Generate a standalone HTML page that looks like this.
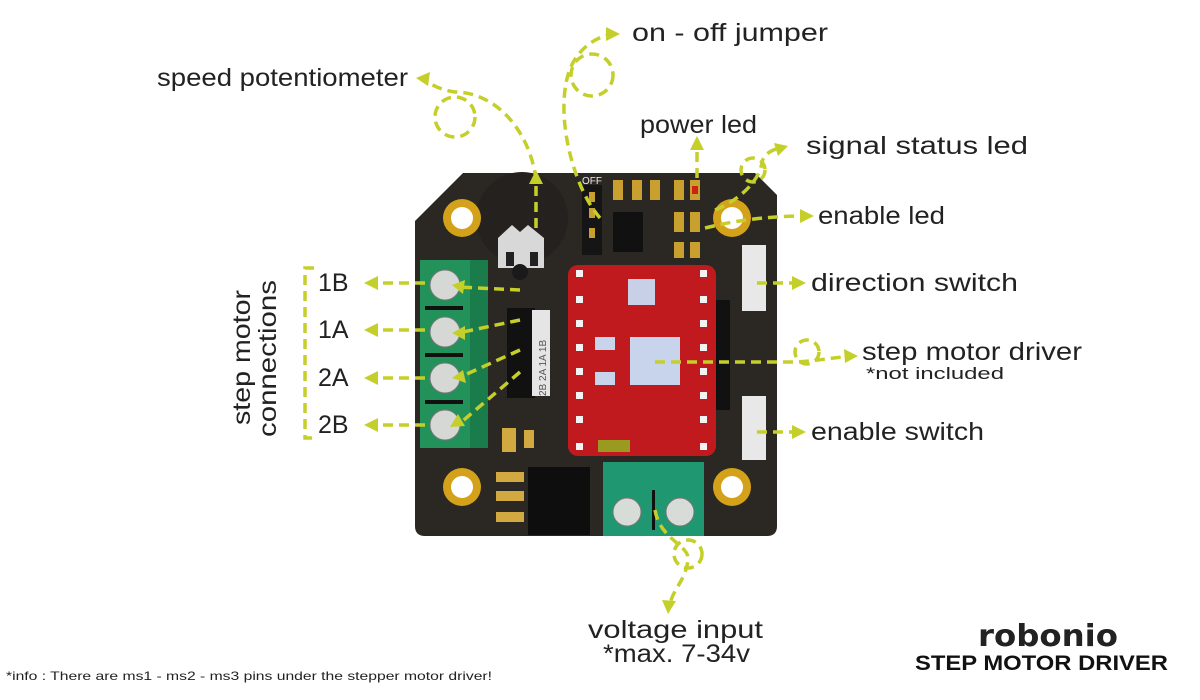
<!DOCTYPE html>
<html><head><meta charset="utf-8"><style>
html,body{margin:0;padding:0;background:#fff;width:1200px;height:700px;overflow:hidden}
svg{display:block}
.l{font-family:"Liberation Sans",sans-serif;font-size:25px;fill:#222}
.d{fill:none;stroke:#c5cf2a;stroke-width:3.5;stroke-dasharray:10 6}
.a{fill:#c5cf2a}
</style></head><body>
<svg width="1200" height="700" viewBox="0 0 1200 700">
<path d="M463,173 L755,173 L777,195 L777,526 Q777,536 767,536 L425,536 Q415,536 415,526 L415,221 Z" fill="#2b2722"/>
<circle cx="522" cy="218" r="46" fill="#24211e"/>
<path d="M498,238 L512,225 L520,232 L528,225 L544,238 L544,268 L498,268 Z" fill="#d8d8d8"/>
<rect x="506" y="252" width="8" height="14" fill="#222"/><rect x="530" y="252" width="8" height="14" fill="#222"/>
<circle cx="520" cy="272" r="8" fill="#1a1a1a"/>
<rect x="582" y="185" width="20" height="70" fill="#151515"/>
<rect x="589" y="192" width="6" height="10" fill="#c9a030"/><rect x="589" y="208" width="6" height="10" fill="#c9a030"/><rect x="589" y="228" width="6" height="10" fill="#c9a030"/>
<text x="582" y="184" font-family="Liberation Sans" font-size="10" fill="#eee">OFF</text>
<rect x="613" y="212" width="30" height="40" fill="#111"/>
<g fill="#c9a030"><rect x="613" y="180" width="10" height="20"/><rect x="632" y="180" width="10" height="20"/><rect x="650" y="180" width="10" height="20"/><rect x="674" y="180" width="10" height="20"/><rect x="690" y="180" width="10" height="20"/><rect x="674" y="212" width="10" height="20"/><rect x="690" y="212" width="10" height="20"/><rect x="690" y="242" width="10" height="16"/><rect x="674" y="242" width="10" height="16"/></g>
<rect x="692" y="186" width="6" height="8" fill="#c21"/>
<g fill="#d4a21a"><circle cx="462" cy="218" r="19"/><circle cx="732" cy="218" r="19"/><circle cx="462" cy="487" r="19"/><circle cx="732" cy="487" r="19"/></g>
<g fill="#fff"><circle cx="462" cy="218" r="11"/><circle cx="732" cy="218" r="11"/><circle cx="462" cy="487" r="11"/><circle cx="732" cy="487" r="11"/></g>
<rect x="420" y="260" width="68" height="188" fill="#22925a"/>
<rect x="470" y="260" width="18" height="188" fill="#1a7c4a"/>
<g fill="#d5d8d5" stroke="#777" stroke-width="1"><circle cx="445" cy="285" r="15"/><circle cx="445" cy="332" r="15"/><circle cx="445" cy="378" r="15"/><circle cx="445" cy="425" r="15"/></g>
<g fill="#111"><rect x="425" y="306" width="38" height="4"/><rect x="425" y="353" width="38" height="4"/><rect x="425" y="400" width="38" height="4"/></g>
<rect x="507" y="308" width="28" height="90" fill="#111"/>
<rect x="532" y="310" width="18" height="86" fill="#e5e5e5"/>
<text transform="translate(546,396) rotate(-90)" font-family="Liberation Sans" font-size="10" fill="#555">2B 2A 1A 1B</text>
<rect x="568" y="265" width="148" height="191" rx="10" fill="#c01a1e"/>
<rect x="716" y="300" width="14" height="110" fill="#111"/>
<g fill="#f3f3f3"><rect x="576" y="270" width="7" height="7"/><rect x="576" y="296" width="7" height="7"/><rect x="576" y="320" width="7" height="7"/><rect x="576" y="344" width="7" height="7"/><rect x="576" y="368" width="7" height="7"/><rect x="576" y="392" width="7" height="7"/><rect x="576" y="416" width="7" height="7"/><rect x="576" y="443" width="7" height="7"/><rect x="700" y="270" width="7" height="7"/><rect x="700" y="296" width="7" height="7"/><rect x="700" y="320" width="7" height="7"/><rect x="700" y="344" width="7" height="7"/><rect x="700" y="368" width="7" height="7"/><rect x="700" y="392" width="7" height="7"/><rect x="700" y="416" width="7" height="7"/><rect x="700" y="443" width="7" height="7"/></g>
<rect x="628" y="279" width="27" height="26" fill="#c8d0e8"/>
<g fill="#c8d4ec"><rect x="630" y="337" width="50" height="48"/><rect x="595" y="337" width="20" height="13"/><rect x="595" y="372" width="20" height="13"/></g>
<rect x="598" y="440" width="32" height="12" fill="#9a9a20"/>
<rect x="742" y="245" width="24" height="66" fill="#e8e8e8"/>
<rect x="742" y="396" width="24" height="64" fill="#e8e8e8"/>
<rect x="528" y="467" width="62" height="68" fill="#0e0e0e"/>
<g fill="#d2a840"><rect x="496" y="472" width="28" height="10"/><rect x="496" y="491" width="28" height="10"/><rect x="496" y="512" width="28" height="10"/><rect x="502" y="428" width="14" height="24"/><rect x="524" y="430" width="10" height="18"/></g>
<rect x="603" y="462" width="101" height="74" fill="#1f9770"/>
<g fill="#d8dcd8" stroke="#777"><circle cx="627" cy="512" r="14"/><circle cx="680" cy="512" r="14"/></g>
<rect x="652" y="490" width="3" height="40" fill="#111"/>
<path class="d" d="M536,228 L536,182"/>
<path class="d" d="M536,180 C530,130 495,92 455,92 C440,90 430,84 425,80"/>
<circle class="d" cx="455" cy="117" r="20"/>
<path class="d" d="M600,218 C575,190 555,120 568,75 C575,50 595,38 608,35"/>
<circle class="d" cx="592" cy="75" r="21"/>
<path class="d" d="M697,178 L697,146"/>
<path class="d" d="M715,210 C740,200 760,180 762,162 C764,155 770,150 780,148"/>
<circle class="d" cx="753" cy="170" r="12"/>
<path class="d" d="M705,228 C730,222 760,216 808,216"/>
<path class="d" d="M757,283 L800,283"/>
<path class="d" d="M655,362 L790,362 C810,362 830,358 852,356"/>
<circle class="d" cx="807" cy="352" r="12"/>
<path class="d" d="M757,432 L800,432"/>
<path class="d" d="M655,510 C660,540 690,545 688,560 C686,580 672,590 670,605"/>
<circle class="d" cx="688" cy="554" r="14"/>
<path class="d" d="M520,290 L458,287 M520,320 L458,333 M520,350 L458,378 M520,372 L458,425"/>
<path class="d" d="M425,283 L372,283 M425,330 L372,330 M425,378 L372,378 M425,425 L372,425"/>
<path class="d" d="M314,268 L305,268 L305,438 L314,438"/>
<g class="a">
<polygon points="536,170 529,184 543,184"/>
<polygon points="416,78 430,72 428,86"/>
<polygon points="620,34 606,27 606,41"/>
<polygon points="697,136 690,150 704,150"/>
<polygon points="788,146 774,143 778,156"/>
<polygon points="814,216 800,209 800,223"/>
<polygon points="806,283 792,276 792,290"/>
<polygon points="858,356 844,349 845,363"/>
<polygon points="806,432 792,425 792,439"/>
<polygon points="668,614 662,600 676,601"/>
<polygon points="364,283 378,276 378,290"/>
<polygon points="364,330 378,323 378,337"/>
<polygon points="364,378 378,371 378,385"/>
<polygon points="364,425 378,418 378,432"/>
<polygon points="452,285 465,280 463,294"/>
<polygon points="452,333 465,326 465,340"/>
<polygon points="452,378 463,370 466,383"/>
<polygon points="450,427 458,414 465,426"/>
</g>
<g lengthAdjust="spacingAndGlyphs">
<text class="l" x="157" y="86" textLength="251" lengthAdjust="spacingAndGlyphs">speed potentiometer</text>
<text class="l" x="632" y="41" textLength="196" lengthAdjust="spacingAndGlyphs">on - off jumper</text>
<text class="l" x="640" y="133" textLength="117" lengthAdjust="spacingAndGlyphs">power led</text>
<text class="l" x="806" y="154" textLength="222" lengthAdjust="spacingAndGlyphs">signal status led</text>
<text class="l" x="818" y="224" textLength="127" lengthAdjust="spacingAndGlyphs">enable led</text>
<text class="l" x="811" y="291" textLength="207" lengthAdjust="spacingAndGlyphs">direction switch</text>
<text class="l" x="862" y="360" textLength="220" lengthAdjust="spacingAndGlyphs">step motor driver</text>
<text class="l" x="866" y="379" style="font-size:17px" textLength="138" lengthAdjust="spacingAndGlyphs">*not included</text>
<text class="l" x="811" y="440" textLength="173" lengthAdjust="spacingAndGlyphs">enable switch</text>
<text class="l" x="588" y="638" textLength="175" lengthAdjust="spacingAndGlyphs">voltage input</text>
<text class="l" x="603" y="662" textLength="147" lengthAdjust="spacingAndGlyphs">*max. 7-34v</text>
<text class="l" x="318" y="291">1B</text>
<text class="l" x="318" y="338">1A</text>
<text class="l" x="318" y="386">2A</text>
<text class="l" x="318" y="433">2B</text>
<text class="l" transform="translate(250,425) rotate(-90)" textLength="135" lengthAdjust="spacingAndGlyphs">step motor</text>
<text class="l" transform="translate(276,437) rotate(-90)" textLength="157" lengthAdjust="spacingAndGlyphs">connections</text>
</g>
<text x="6" y="680" font-family="Liberation Sans" font-size="12" fill="#222" textLength="486" lengthAdjust="spacingAndGlyphs">*info : There are ms1 - ms2 - ms3 pins under the stepper motor driver!</text>
<text x="978" y="646" font-family="DejaVu Sans" font-size="30" font-weight="bold" fill="#222" textLength="140" lengthAdjust="spacingAndGlyphs">robonio</text>
<text x="915" y="670" font-family="Liberation Sans" font-size="21" font-weight="bold" fill="#111" textLength="253" lengthAdjust="spacingAndGlyphs">STEP MOTOR DRIVER</text>
</svg>
</body></html>
